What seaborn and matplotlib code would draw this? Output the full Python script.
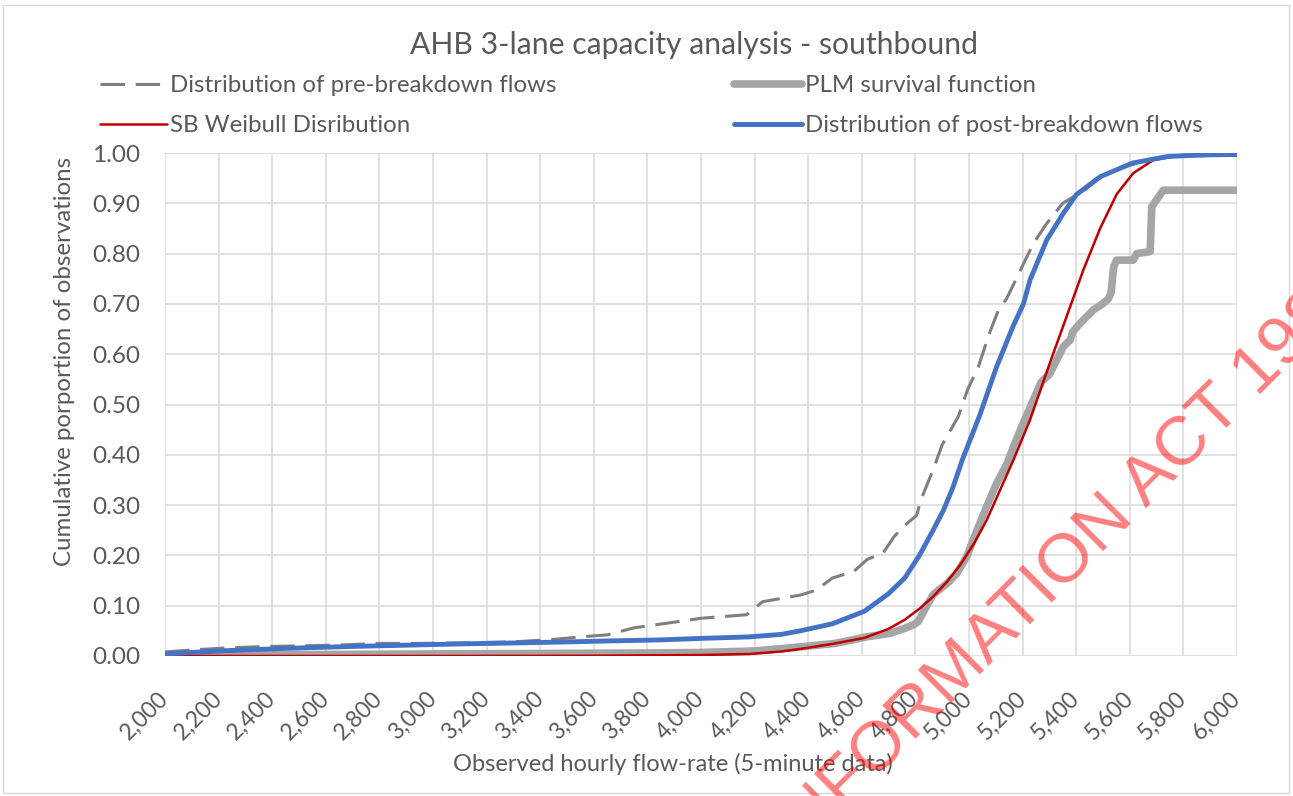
import numpy as np
import pandas as pd
import matplotlib
matplotlib.use("Agg")
import matplotlib.pyplot as plt
import matplotlib.transforms as mtransforms
from matplotlib.patches import Rectangle
import seaborn as sns

# distribution of pre-breakdown flows (dashed)
pre_flow = [2000, 2100, 2230, 2380, 2500, 2660, 2800, 2950, 3100, 3300, 3450, 3550,
            3650, 3750, 3870, 4000, 4170, 4230, 4370, 4430, 4490, 4570, 4620, 4680,
            4720, 4755, 4805, 4820, 4866, 4900, 4960, 4995, 5035, 5075, 5110, 5140,
            5180, 5240, 5290, 5350, 5430, 5510, 5600, 5740, 6000]
pre_prop = [0.008, 0.012, 0.016, 0.019, 0.020, 0.022, 0.025, 0.025, 0.026, 0.028, 0.033, 0.038,
            0.042, 0.056, 0.065, 0.075, 0.082, 0.108, 0.121, 0.131, 0.155, 0.168, 0.192, 0.205,
            0.237, 0.257, 0.280, 0.310, 0.370, 0.420, 0.476, 0.530, 0.575, 0.640, 0.688, 0.710,
            0.754, 0.820, 0.860, 0.900, 0.926, 0.960, 0.976, 0.993, 0.996]

# PLM survival function (thick grey, stepped)
plm_flow = [2000, 2600, 3000, 3400, 3800, 4000, 4200, 4370, 4500, 4618, 4705, 4760,
            4792, 4810, 4830, 4866, 4880, 4920, 4954, 4991, 5030, 5066, 5103, 5140,
            5166, 5200, 5240, 5270, 5300, 5340, 5352, 5377, 5388, 5414, 5440, 5464,
            5501, 5520, 5530, 5540, 5551, 5613, 5626, 5676, 5682, 5700, 5725, 6000]
plm_prop = [0.002, 0.003, 0.004, 0.005, 0.006, 0.007, 0.010, 0.018, 0.025, 0.038, 0.045, 0.055,
            0.062, 0.068, 0.088, 0.122, 0.128, 0.145, 0.164, 0.197, 0.250, 0.297, 0.343, 0.380,
            0.416, 0.460, 0.509, 0.545, 0.560, 0.602, 0.615, 0.628, 0.645, 0.661, 0.675, 0.688,
            0.701, 0.710, 0.722, 0.774, 0.787, 0.787, 0.800, 0.804, 0.893, 0.907, 0.926, 0.926]

# SB Weibull distribution (red)
wb_flow = [2000, 3000, 3600, 4000, 4180, 4300, 4370, 4490, 4610, 4700, 4760, 4815,
           4866, 4917, 4966, 5020, 5066, 5166, 5228, 5300, 5365, 5427, 5490, 5551,
           5613, 5688, 5800, 6000]
wb_prop = [0.0, 0.0, 0.0005, 0.002, 0.004, 0.009, 0.014, 0.024, 0.036, 0.054, 0.072, 0.094,
           0.118, 0.147, 0.180, 0.225, 0.270, 0.390, 0.470, 0.580, 0.676, 0.768, 0.851, 0.918,
           0.960, 0.986, 0.996, 1.0]

# distribution of post-breakdown flows (blue)
post_flow = [2000, 2200, 2440, 2700, 2940, 3100, 3310, 3500, 3660, 3850, 4000, 4180,
             4300, 4370, 4490, 4610, 4700, 4760, 4815, 4866, 4905, 4940, 4975, 5041,
             5103, 5164, 5203, 5228, 5290, 5352, 5400, 5490, 5610, 5740, 5860, 6000]
post_prop = [0.004, 0.010, 0.015, 0.019, 0.022, 0.024, 0.026, 0.028, 0.030, 0.032, 0.035, 0.038,
             0.043, 0.050, 0.064, 0.089, 0.124, 0.155, 0.200, 0.250, 0.290, 0.335, 0.390, 0.480,
             0.575, 0.655, 0.700, 0.748, 0.827, 0.880, 0.917, 0.953, 0.980, 0.993, 0.996, 0.997]

x_ticks = list(range(2000, 6001, 200))
y_ticks = [i / 10 for i in range(11)]

sns.set_style("whitegrid", {"grid.color": "#d9d9d9", "axes.edgecolor": "#d9d9d9"})
plt.rcParams["font.family"] = ["Lato", "DejaVu Sans"]
text_color = "#595959"

fig, ax = plt.subplots(figsize=(12.93, 7.96), dpi=100)
fig.subplots_adjust(left=165 / 1293, right=1237 / 1293, bottom=1 - 656 / 796, top=1 - 153 / 796)

sns.lineplot(x=plm_flow, y=plm_prop, ax=ax, color="#a5a5a5", linewidth=5.5,
             sort=False, label="PLM survival function")
sns.lineplot(x=pre_flow, y=pre_prop, ax=ax, color="#7f7f7f", linewidth=2.2,
             sort=False, label="Distribution of pre-breakdown flows")
ax.lines[-1].set_dashes((8, 3.5))
sns.lineplot(x=wb_flow, y=wb_prop, ax=ax, color="#c00000", linewidth=1.8,
             sort=False, label="SB Weibull Disribution")
sns.lineplot(x=post_flow, y=post_prop, ax=ax, color="#4472c4", linewidth=3.5,
             sort=False, label="Distribution of post-breakdown flows")

ax.set_xlim(2000, 6000)
ax.set_ylim(0, 1.0)
ax.set_xticks(x_ticks)
ax.set_xticklabels([f"{v:,}" for v in x_ticks])
ax.set_yticks(y_ticks)
ax.set_yticklabels([f"{v:.2f}" for v in y_ticks])
ax.grid(True, linewidth=1.1)
for s in ax.spines.values():
    s.set_visible(False)

ax.tick_params(axis="x", length=0, pad=27, labelsize=16.5, labelcolor=text_color)
ax.tick_params(axis="y", length=0, pad=18, labelsize=17.5, labelcolor=text_color)
shift = mtransforms.ScaledTranslation(0.0, -0.02, fig.dpi_scale_trans)
for lbl in ax.get_xticklabels():
    lbl.set_rotation(45)
    lbl.set_ha("right")
    lbl.set_va("center")
    lbl.set_rotation_mode("anchor")
    lbl.set_transform(lbl.get_transform() + shift)

ax.set_xlabel("Observed hourly flow-rate (5-minute data)", fontsize=17, color=text_color)
ax.set_ylabel("Cumulative porportion of observations", fontsize=17.3, color=text_color)
ax.xaxis.set_label_coords(0.474, -0.193)
ax.yaxis.set_label_coords(-0.084, 0.586)

fig.text(694 / 1293, 1 - 45 / 796, "AHB 3-lane capacity analysis - southbound",
         ha="center", va="center", fontsize=21.7, color=text_color)

handles, labels = ax.get_legend_handles_labels()
ax.get_legend().remove()
order = [1, 2, 0, 3]
fig.legend([handles[i] for i in order], [labels[i] for i in order], ncol=2,
           loc="upper left", bbox_to_anchor=(100 / 1293, 1 - 75 / 796), frameon=False,
           fontsize=17.3, labelcolor=text_color, handlelength=2.8, handletextpad=0.12,
           columnspacing=7.4, labelspacing=0.8, borderpad=0, borderaxespad=0)

fig.text(1367 / 1293, 1 - 289 / 796, "RELEASED UNDER THE OFFICIAL INFORMATION ACT 1982",
         rotation=45, rotation_mode="anchor", ha="right", va="baseline",
         fontsize=50, color="#ff0000", alpha=0.5, family=["Liberation Sans", "DejaVu Sans"])

fig.patches.append(Rectangle((0.002, 0.004), 0.995, 0.99, transform=fig.transFigure,
                             fill=False, edgecolor="#d9d9d9", linewidth=1))

plt.savefig("out.png", dpi=100)
plt.close()
